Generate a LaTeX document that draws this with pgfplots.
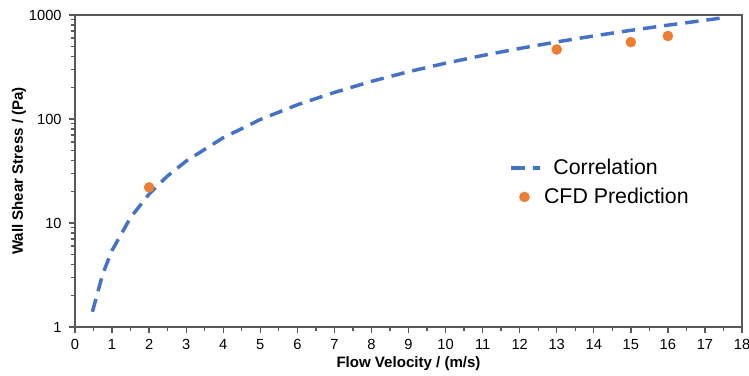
\documentclass[border=0pt]{standalone}
\usepackage{fontspec}
\setmainfont{Liberation Sans}
\usepackage{pgfplots}
\pgfplotsset{compat=1.18}
\definecolor{cblue}{HTML}{4472C4}
\definecolor{corange}{HTML}{ED7D31}
\definecolor{axgray}{HTML}{595959}
\pgfplotsset{mylegline/.style={legend image code/.code={\draw[##1] (-0.05cm,0cm) -- (0.7cm,0cm);}}}
\begin{document}
\begin{tikzpicture}
\begin{axis}[
  at={(0,0)}, anchor=south west,
  scale only axis, width=500.25pt, height=234pt,
  axis lines*=left,
  xmin=0, xmax=18, ymode=log, ymin=1, ymax=1000,
  xtick={0,1,...,18}, minor x tick num=1,
  ytick={1,10,100,1000}, yticklabels={1,10,100,1000},
  minor ytick={2,3,4,5,6,7,8,9,20,30,40,50,60,70,80,90,200,300,400,500,600,700,800,900},
  tick align=outside,
  major tick length=4.5pt, minor tick length=3.2pt,
  axis line style={axgray, line width=0.9pt, -},
  tick style={draw=axgray, line width=1pt},
  ticklabel style={font=\fontsize{11}{13}\selectfont},
  yticklabel style={xshift=-2pt},
  xticklabel style={yshift=-1pt},
  /pgf/number format/assume math mode=true,
  xlabel={Flow Velocity / (m/s)},
  ylabel={Wall Shear Stress / (Pa)},
  label style={font=\bfseries\fontsize{11.3}{13}\selectfont},
  xlabel style={at={(axis description cs:0.5,0)}, anchor=center, yshift=-27.5pt},
  ylabel style={at={(axis description cs:0,0.5)}, anchor=center, rotate=0, yshift=42pt},
  legend style={at={(axis description cs:0.645,0.555)}, anchor=north west,
    draw=none, fill=none, font=\fontsize{16}{18}\selectfont, row sep=4.5pt,
    legend cell align=left},
  clip=false,
]
\addplot[cblue, line width=2.6pt, dash pattern=on 10pt off 6pt, mylegline]
  coordinates {
  (0.47,1.40) (0.75,3.25) (1,5.45) (1.5,11.3) (2,19.0) (2.5,28.4) (3,39.4)
  (4,66.1) (5,98.8) (6,137) (7,180) (8,230) (9,285) (10,344) (11,408)
  (12,477) (13,551) (14,629) (15,712) (16,799) (17,890) (17.5,942)
  };
\addlegendentry{\hspace{7pt}Correlation}
\addplot[only marks, mark=*, mark size=3.75pt, mark options={fill=corange, draw=corange}]
  coordinates {(2,22) (13,466) (15,549) (16,628)};
\addlegendentry{CFD Prediction}
\draw[axgray, line width=0.9pt] (rel axis cs:0,1) -- (rel axis cs:1,1) -- (rel axis cs:1,0);
\end{axis}
\pgfresetboundingbox
\useasboundingbox (-56.25pt,-36pt) rectangle (505.5pt,245.25pt);
\end{tikzpicture}
\end{document}
